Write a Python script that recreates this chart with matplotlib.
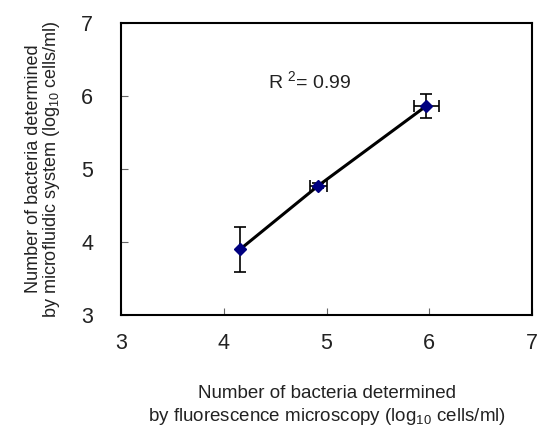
import numpy as np
import matplotlib
matplotlib.use("Agg")
import matplotlib.pyplot as plt

plt.rcParams['font.family'] = ['Liberation Sans', 'DejaVu Sans']
plt.rcParams['mathtext.fontset'] = 'custom'
plt.rcParams['mathtext.rm'] = 'Liberation Sans'
plt.rcParams['mathtext.it'] = 'Liberation Sans'

# measured points (log10 cells/ml)
x_micro = [4.16, 4.92, 5.97]
y_fluid = [3.90, 4.77, 5.86]
x_err = [0.0, 0.08, 0.12]
y_err = [0.31, 0.03, 0.16]
x_ticks = [3, 4, 5, 6, 7]
y_ticks = [3, 4, 5, 6, 7]

fig = plt.figure(figsize=(5.43, 4.26), dpi=100)
ax = fig.add_axes([0.2228, 0.2606, 0.757, 0.686])

ax.plot(x_micro, y_fluid, color='black', lw=2.2, zorder=2)
ax.errorbar(x_micro, y_fluid, xerr=x_err, yerr=y_err, fmt='none',
            ecolor='black', elinewidth=1.2, capsize=4, capthick=1.2, zorder=3)
ax.plot(x_micro, y_fluid, linestyle='none', marker='D', ms=6,
        color='#000080', zorder=4)

ax.text(4.43, 6.1, r'R $^{\mathregular{2}}$= 0.99', fontsize=14, color='#222222',
        ha='left', va='baseline')

ax.set_xlim(3, 7)
ax.set_ylim(3, 7)
ax.set_xticks(x_ticks)
ax.set_yticks(y_ticks)
ax.tick_params(direction='in', length=5, width=0.8, labelsize=15.5,
               labelcolor='#222222', color='#666666')
ax.tick_params(axis='x', pad=13)
ax.tick_params(axis='y', pad=20)
for s in ax.spines.values():
    s.set_linewidth(1.5)

ax.set_xlabel('Number of bacteria determined\nby fluorescence microscopy (log$_{\\mathregular{10}}$ cells/ml)',
              fontsize=13.5, color='#222222', labelpad=22, linespacing=1.3)
ax.set_ylabel('Number of bacteria determined\nby microfluidic system (log$_{\\mathregular{10}}$ cells/ml)',
              fontsize=13, color='#222222', labelpad=14, linespacing=0.95)

fig.savefig('out.png', dpi=100)
